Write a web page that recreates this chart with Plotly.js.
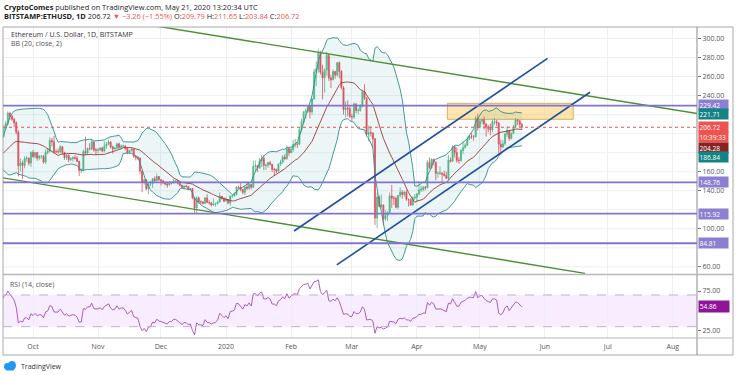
<!DOCTYPE html>
<html><head><meta charset="utf-8">
<script src="https://cdn.plot.ly/plotly-3.0.1.min.js"></script>
<style>html,body{margin:0;padding:0;background:#fff}#chart{width:736px;height:375px}</style>
</head><body><div id="chart"></div>
<script>
// ---------- DATA (ETH/USD daily, Bitstamp) ----------
const firstCloseDate = '2019-08-01';   // closes start here (warm-up for BB / RSI)
const closeAug19 = [218.0,217.8,222.0,222.0,233.0,226.5,226.0,219.0,211.0,206.5,216.0,211.0,208.5,186.5,187.0,185.0,183.0,195.0,202.0,196.5,187.2,191.5,194.6,189.2,186.6,188.4,187.0,173.0,168.9,169.1,172.1];
const closeSep19 = [171.8,178.6,178.5,174.6,173.7,168.6,177.5,181.6,180.4,179.0,179.6,181.3,180.6,188.4,188.8,197.0,207.4,210.6,221.6,218.2,215.2,211.5,201.6,166.3,169.3,166.6,173.9,174.1,169.1,180.3];
const closeOct19 = [175.9,180.1,174.3,176.3,176.3,170.1,180.1,181.8,192.8,191.5,181.0,181.0,181.0,186.2,180.2,174.9,177.4,172.8,173.9,174.9,174.1,170.9,161.4,161.7,181.3,179.7,184.3,184.1,191.4,183.1,182.6];
const closeNov19 = [182.9,184.8,181.9,186.9,188.8,191.2,186.1,183.9,184.7,189.3,185.5,186.9,187.0,184.4,180.0,182.1,183.9,176.3,174.9,174.2,160.7,149.3,151.6,142.0,146.8,147.3,152.5,150.6,155.0,151.6];
const closeDec19 = [150.5,148.6,147.0,146.2,148.3,148.2,150.1,150.1,148.0,145.8,143.4,144.8,144.5,141.9,142.4,132.5,121.9,132.4,128.2,128.2,126.8,132.4,127.6,127.3,125.0,125.8,126.3,128.3,134.3,131.9,129.2];
const closeJan20 = [130.8,127.2,134.3,134.6,135.9,143.9,143.4,141.3,138.3,144.0,142.5,146.6,143.6,165.6,166.4,163.9,171.2,174.0,166.6,166.8,169.4,167.9,162.5,162.5,160.8,168.1,170.1,175.5,173.8,184.3,179.9];
const closeFeb20 = [183.4,188.6,189.4,188.9,204.3,212.6,223.0,223.8,228.6,222.8,236.7,265.0,268.0,284.2,264.7,258.7,267.1,282.2,258.4,256.7,265.3,261.6,274.5,265.5,248.3,225.2,227.0,226.4,217.9];
const closeMar20 = [217.5,231.3,224.3,224.4,228.8,244.1,237.3,199.5,201.0,200.6,194.5,111.3,133.4,123.6,125.0,110.6,113.9,117.1,134.6,132.3,132.0,122.6,135.2,138.5,136.1,138.6,131.0,130.6,125.0,132.5,133.2];
const closeApr20 = [136.4,140.9,141.4,143.7,143.3,169.8,164.3,173.1,170.1,158.2,158.3,158.7,157.5,156.0,153.1,172.2,170.9,186.2,180.2,171.9,171.7,182.3,185.3,187.8,194.2,197.2,196.9,196.7,216.3,206.9];
const closeMay20 = [213.1,214.7,210.2,206.9,205.3,204.1,212.4,212.6,211.1,188.8,186.0,189.4,199.4,203.4,194.8,200.2,207.2,214.3,213.6,209.79,206.72];

const firstCandleDate = '2019-09-16';  // candles (open/high/low) start here
const openSep19 = [188.8,197.0,207.4,210.6,221.6,218.2,215.2,211.5,201.6,166.3,169.3,166.6,173.9,174.1,169.1];
const highSep19 = [199.0,209.0,213.5,223.5,223.0,219.5,216.5,213.0,203.5,174.0,171.5,176.0,176.5,175.0,181.5];
const lowSep19  = [187.5,195.5,205.0,209.0,214.5,213.5,207.0,199.0,155.0,160.0,152.0,163.5,170.5,166.5,165.0];
const openOct19 = [180.3,175.9,180.1,174.3,176.3,176.3,170.1,180.1,181.8,192.8,191.5,181.0,181.0,181.0,186.2,180.2,174.9,177.4,172.8,173.9,174.9,174.1,170.9,161.4,161.7,181.3,179.7,184.3,184.1,191.4,183.1];
const highOct19 = [183.0,181.0,180.5,177.5,177.5,177.5,183.5,185.0,196.0,195.5,197.5,183.5,184.5,188.0,187.0,181.0,178.5,178.0,175.0,176.0,177.5,176.5,171.5,163.5,183.0,197.0,185.5,190.0,194.5,191.5,185.0];
const lowOct19  = [174.5,173.5,171.5,172.0,173.5,168.5,168.0,178.5,180.5,186.5,179.0,179.5,179.0,179.5,178.5,172.5,172.5,170.0,171.0,170.5,172.5,170.0,155.5,158.5,160.5,177.0,177.5,182.5,182.5,181.0,177.5];
const openNov19 = [182.6,182.9,184.8,181.9,186.9,188.8,191.2,186.1,183.9,184.7,189.3,185.5,186.9,187.0,184.4,180.0,182.1,183.9,176.3,174.9,174.2,160.7,149.3,151.6,142.0,146.8,147.3,152.5,150.6,155.0];
const highNov19 = [184.5,186.0,186.0,192.0,191.0,193.5,192.0,187.5,186.0,190.5,190.5,188.5,188.5,188.0,185.5,183.0,185.5,184.5,177.5,176.5,175.0,161.5,152.5,152.0,148.5,150.5,153.5,155.0,158.0,155.5];
const lowNov19  = [179.5,182.0,180.5,180.5,184.0,188.0,184.5,179.0,183.0,184.0,183.5,183.5,185.5,182.5,178.5,179.5,181.0,174.5,172.0,172.5,157.5,138.5,146.5,140.5,136.5,145.0,143.0,148.5,150.0,150.5];
const openDec19 = [151.6,150.5,148.6,147.0,146.2,148.3,148.2,150.1,150.1,148.0,145.8,143.4,144.8,144.5,141.9,142.4,132.5,121.9,132.4,128.2,128.2,126.8,132.4,127.6,127.3,125.0,125.8,126.3,128.3,134.3,131.9];
const highDec19 = [152.0,151.0,149.5,149.5,150.0,149.5,152.5,151.5,151.5,148.5,146.5,146.0,146.5,145.0,143.0,143.0,133.0,134.0,134.0,130.0,129.0,133.5,136.5,130.0,128.0,132.0,127.5,129.5,138.0,134.5,133.0];
const lowDec19  = [145.5,147.0,145.5,143.0,145.5,146.5,147.5,148.5,146.5,144.5,142.5,141.5,143.5,140.5,140.5,131.0,117.0,116.5,126.5,126.0,125.5,126.5,127.0,125.5,123.5,124.5,123.5,126.0,128.0,130.5,128.0];
const openJan20 = [129.2,130.8,127.2,134.3,134.6,135.9,143.9,143.4,141.3,138.3,144.0,142.5,146.6,143.6,165.6,166.4,163.9,171.2,174.0,166.6,166.8,169.4,167.9,162.5,162.5,160.8,168.1,170.1,175.5,173.8,184.3];
const highJan20 = [133.0,131.0,135.0,135.5,138.5,144.5,145.5,148.0,142.0,144.5,149.5,147.0,147.0,171.5,171.5,167.0,174.5,177.5,177.5,168.5,170.5,171.5,168.0,164.0,163.0,168.5,172.5,177.5,178.5,187.5,185.5];
const lowJan20  = [128.5,126.0,124.0,132.5,134.0,135.5,141.5,139.5,136.5,135.5,140.5,141.0,141.5,143.0,160.0,159.5,163.0,165.0,161.5,162.0,164.0,166.5,160.0,155.5,158.5,159.5,166.0,168.5,172.0,172.5,176.5];
const openFeb20 = [179.9,183.4,188.6,189.4,188.9,204.3,212.6,223.0,223.8,228.6,222.8,236.7,265.0,268.0,284.2,264.7,258.7,267.1,282.2,258.4,256.7,265.3,261.6,274.5,265.5,248.3,225.2,227.0,226.4];
const highFeb20 = [185.0,193.5,194.5,191.5,207.0,215.5,224.0,226.5,229.5,229.5,237.5,268.0,276.0,288.5,287.0,272.5,268.5,286.0,284.0,262.0,267.5,266.0,275.5,276.0,266.5,250.0,234.0,235.0,229.0];
const lowFeb20  = [179.5,180.5,185.5,185.0,188.0,201.5,210.0,215.5,221.5,216.0,220.0,235.5,250.0,264.0,262.0,236.0,243.0,261.0,255.5,248.0,256.0,257.5,260.0,258.0,246.5,220.0,217.0,218.5,216.5];
const openMar20 = [217.9,217.5,231.3,224.3,224.4,228.8,244.1,237.3,199.5,201.0,200.6,194.5,111.3,133.4,123.6,125.0,110.6,113.9,117.1,134.6,132.3,132.0,122.6,135.2,138.5,136.1,138.6,131.0,130.6,125.0,132.5];
const highMar20 = [221.0,232.5,232.0,227.0,231.0,245.5,252.0,238.5,208.5,207.5,201.5,195.5,138.0,135.0,136.0,125.5,119.5,118.5,138.0,146.0,134.5,134.0,135.5,143.5,140.5,139.5,140.5,131.5,132.0,134.5,136.5];
const lowMar20  = [213.5,215.5,221.5,220.5,223.0,227.5,235.5,198.0,192.0,197.0,185.0,104.0,101.0,122.5,121.5,104.0,108.5,108.5,115.5,122.0,125.0,121.5,120.5,133.0,131.5,133.5,129.5,123.5,124.5,124.0,130.5];
const openApr20 = [133.2,136.4,140.9,141.4,143.7,143.3,169.8,164.3,173.1,170.1,158.2,158.3,158.7,157.5,156.0,153.1,172.2,170.9,186.2,180.2,171.9,171.7,182.3,185.3,187.8,194.2,197.2,196.9,196.7,216.3];
const highApr20 = [137.5,150.0,145.5,145.0,145.0,172.0,175.0,174.0,173.5,170.5,160.5,165.5,159.0,161.0,160.0,177.5,175.0,188.0,187.0,185.5,175.5,184.0,192.0,190.0,197.0,198.5,200.5,198.5,218.5,221.0];
const lowApr20  = [128.5,135.5,138.5,139.5,140.5,142.5,162.5,163.0,166.5,151.0,153.5,156.5,148.5,155.0,152.5,150.5,169.5,170.5,175.0,169.5,168.5,170.5,178.5,184.5,187.0,193.5,194.5,192.5,196.0,203.0];
const openMay20 = [206.9,213.1,214.7,210.2,206.9,205.3,204.1,212.4,212.6,211.1,188.8,186.0,189.4,199.4,203.4,194.8,200.2,207.2,214.3,213.6,209.79];
const highMay20 = [215.5,216.0,218.0,211.0,209.0,210.5,215.0,216.5,214.5,212.0,193.5,193.0,201.0,207.5,204.0,201.5,209.0,216.5,215.5,214.0,211.65];
const lowMay20  = [205.5,210.0,204.5,197.0,201.5,198.5,201.5,209.5,208.0,179.0,177.5,185.0,187.5,196.5,192.5,194.0,199.5,207.0,209.0,207.0,203.84];

// axis ticks (values hidden behind the price labels are not shown)
const monthTicks  = ['2019-10-01','2019-11-01','2019-12-01','2020-01-01','2020-02-01','2020-03-01','2020-04-01','2020-05-01','2020-06-01','2020-07-01','2020-08-01'];
const monthLabels = ['Oct','Nov','Dec','2020','Feb','Mar','Apr','May','Jun','Jul','Aug'];
const priceTicks  = [60,100,140,160,240,260,280,300];
const priceGrid   = [60,80,100,120,140,160,180,200,220,240,260,280,300];
const rsiTicks    = [25,75];

// drawings (anchor points)
const levelPrices = [229.42, 148.76, 115.92, 84.81];
const greenUpperDates = ['2019-10-01','2020-08-31'];       const greenUpperPrices = [334.0, 214.6];
const greenLowerDates = ['2019-09-01','2020-06-20 02:00']; const greenLowerPrices = [159.2, 53.2];
const blueUpperDates  = ['2020-02-02 10:00','2020-06-02 07:00']; const blueUpperPrices = [97.7, 279.2];
const blueLowerDates  = ['2020-02-22 19:00','2020-06-22 12:00']; const blueLowerPrices = [62.0, 243.5];
const zoneDates  = ['2020-04-15 12:00','2020-06-14 12:00'];
const zonePrices = [215.1, 231.9];
const rsiBand = [30, 70];

// right-axis price labels
const axisLabelVals  = [229.42, 221.71, 206.72, 204.28, 186.84, 148.76, 115.92, 84.81];
const axisLabelColor = ['#8b7fd1','#138484','#ef5350','#872323','#138484','#8b7fd1','#8b7fd1','#8b7fd1'];
const axisLabelShift = [1, -0.5, 0, -18, -11, 0, 0, 0];
const countdownText = '10:39:33';
const rsiLast = 54.86;

// ---------- helpers ----------
function dayList(start, n){
  const d0 = Date.parse(start + 'T00:00:00Z');
  return Array.from({length:n}, (_, i) => new Date(d0 + i*864e5).toISOString().slice(0,10));
}
const closeAll = [].concat(closeAug19, closeSep19, closeOct19, closeNov19, closeDec19, closeJan20, closeFeb20, closeMar20, closeApr20, closeMay20);
const closeDates = dayList(firstCloseDate, closeAll.length);
const openAll = [].concat(openSep19, openOct19, openNov19, openDec19, openJan20, openFeb20, openMar20, openApr20, openMay20);
const highAll = [].concat(highSep19, highOct19, highNov19, highDec19, highJan20, highFeb20, highMar20, highApr20, highMay20);
const lowAll  = [].concat(lowSep19, lowOct19, lowNov19, lowDec19, lowJan20, lowFeb20, lowMar20, lowApr20, lowMay20);
const candleOffset = closeDates.indexOf(firstCandleDate);
const candleDates = closeDates.slice(candleOffset);
const candleClose = closeAll.slice(candleOffset);

// Bollinger Bands (20, 2)
const bbX = [], bbMid = [], bbUp = [], bbLo = [];
for (let i = 19; i < closeAll.length; i++) {
  const w = closeAll.slice(i-19, i+1);
  const m = w.reduce((a,b)=>a+b,0)/20;
  const sd = Math.sqrt(w.reduce((a,b)=>a+(b-m)*(b-m),0)/20);
  bbX.push(closeDates[i]); bbMid.push(m); bbUp.push(m+2*sd); bbLo.push(m-2*sd);
}
// RSI (14) Wilder
const rsiX = [], rsiY = [];
let ag = 0, al = 0;
for (let i = 1; i < closeAll.length; i++) {
  const ch = closeAll[i]-closeAll[i-1];
  const g = Math.max(ch,0), l = Math.max(-ch,0);
  if (i <= 14) { ag += g/14; al += l/14; if (i < 14) continue; }
  else { ag = (ag*13+g)/14; al = (al*13+l)/14; }
  rsiX.push(closeDates[i]); rsiY.push(al === 0 ? 100 : 100 - 100/(1+ag/al));
}

// pixel -> paper helpers for frame decoration
const PL = 3, PW = 694, PB = 338, PH = 311;
const px = v => (v - PL)/PW;
const py = v => (PB - v)/PH;

const RED = '#ef5350';
const traces = [
  {x:bbX, y:bbLo, type:'scatter', mode:'lines', line:{color:'#2f8f8a', width:0.9}, xaxis:'x', yaxis:'y', hoverinfo:'skip'},
  {x:bbX, y:bbUp, type:'scatter', mode:'lines', line:{color:'#2f8f8a', width:0.9}, fill:'tonexty', fillcolor:'rgba(25,135,135,0.08)', xaxis:'x', yaxis:'y', hoverinfo:'skip'},
  {x:candleDates, open:openAll, high:highAll, low:lowAll, close:candleClose, type:'candlestick', xaxis:'x', yaxis:'y',
   increasing:{line:{color:'#53b987', width:0.8}, fillcolor:'#53b987'},
   decreasing:{line:{color:'#eb4d5c', width:0.8}, fillcolor:'#eb4d5c'}, whiskerwidth:0, hoverinfo:'skip'},
  {x:bbX, y:bbMid, type:'scatter', mode:'lines', line:{color:'#9a3a3a', width:0.9}, xaxis:'x', yaxis:'y', hoverinfo:'skip'},
  {x:greenUpperDates, y:greenUpperPrices, type:'scatter', mode:'lines', line:{color:'#4a8f33', width:1.4}, xaxis:'x', yaxis:'y'},
  {x:greenLowerDates, y:greenLowerPrices, type:'scatter', mode:'lines', line:{color:'#4a8f33', width:1.4}, xaxis:'x', yaxis:'y'},
  {x:blueUpperDates, y:blueUpperPrices, type:'scatter', mode:'lines', line:{color:'#1f4f9e', width:1.6}, xaxis:'x', yaxis:'y'},
  {x:blueLowerDates, y:blueLowerPrices, type:'scatter', mode:'lines', line:{color:'#1f4f9e', width:1.6}, xaxis:'x', yaxis:'y'},
  {x:rsiX, y:rsiY, type:'scatter', mode:'lines', line:{color:'#a04cc0', width:0.9}, xaxis:'x', yaxis:'y2', hoverinfo:'skip'}
];

const shapes = [
  {type:'rect', xref:'x', yref:'y', x0:zoneDates[0], x1:zoneDates[1], y0:zonePrices[0], y1:zonePrices[1],
   fillcolor:'rgba(250,205,110,0.55)', line:{color:'#e0b050', width:1}, layer:'between'},
  {type:'line', xref:'paper', yref:'y', x0:0, x1:1, y0:candleClose[candleClose.length-1], y1:candleClose[candleClose.length-1],
   line:{color:RED, width:1, dash:'dot'}, layer:'above'},
  {type:'rect', xref:'paper', yref:'y2', x0:0, x1:1, y0:rsiBand[0], y1:rsiBand[1], fillcolor:'rgba(153,21,255,0.08)', line:{width:0}, layer:'below'},
  {type:'line', xref:'paper', yref:'y2', x0:0, x1:1, y0:rsiBand[0], y1:rsiBand[0], line:{color:'#c2b0d4', width:1, dash:'dash'}},
  {type:'line', xref:'paper', yref:'y2', x0:0, x1:1, y0:rsiBand[1], y1:rsiBand[1], line:{color:'#c2b0d4', width:1, dash:'dash'}},
  {type:'rect', xref:'paper', yref:'paper', x0:0, x1:px(733), y0:py(355), y1:1, line:{color:'#a8a8a8', width:1}, fillcolor:'rgba(0,0,0,0)'},
  {type:'line', xref:'paper', yref:'paper', x0:1, x1:1, y0:py(355), y1:1, line:{color:'#8a8a8a', width:1}},
  {type:'line', xref:'paper', yref:'paper', x0:0, x1:px(733), y0:py(274.5), y1:py(274.5), line:{color:'#b8b8b8', width:1.6}},
  {type:'line', xref:'paper', yref:'paper', x0:0, x1:px(733), y0:0, y1:0, line:{color:'#b8b8b8', width:1.2}},
  {type:'circle', xref:'paper', yref:'paper', x0:px(4), x1:px(11), y0:py(370), y1:py(363), fillcolor:'#2196f3', line:{width:0}},
  {type:'circle', xref:'paper', yref:'paper', x0:px(8), x1:px(16), y0:py(370), y1:py(361), fillcolor:'#2196f3', line:{width:0}},
  {type:'rect', xref:'paper', yref:'paper', x0:px(6), x1:px(14), y0:py(370.5), y1:py(366), fillcolor:'#2196f3', line:{width:0}}
];
priceGrid.forEach(v => shapes.push({type:'line', xref:'paper', yref:'y', x0:0, x1:1, y0:v, y1:v, line:{color:'#edeff4', width:1}, layer:'below'}));
levelPrices.forEach(v => shapes.push({type:'line', xref:'paper', yref:'y', x0:0, x1:1, y0:v, y1:v, line:{color:'#8073d3', width:1.8}, layer:'above'}));

const boxFont = {size:6.6, color:'#fff'};
const annotations = [
  {xref:'paper', yref:'paper', x:px(2), y:py(6.5), xanchor:'left', yanchor:'middle', showarrow:false,
   text:'<b>CryptoComes</b> published on TradingView.com, May 21, 2020 13:20:34 UTC', font:{size:7.4, color:'#222'}},
  {xref:'paper', yref:'paper', x:px(2), y:py(16), xanchor:'left', yanchor:'middle', showarrow:false,
   text:'<b>BITSTAMP:ETHUSD, 1D</b> 206.72 <span style="color:'+RED+'">▼ −3.26 (−1.55%)</span> O:<span style="color:'+RED+'">209.79</span> H:<span style="color:'+RED+'">211.65</span> L:<span style="color:'+RED+'">203.84</span> C:<span style="color:'+RED+'">206.72</span>',
   font:{size:7.4, color:'#222'}},
  {xref:'paper', yref:'paper', x:px(9), y:py(34), xanchor:'left', yanchor:'middle', showarrow:false,
   text:'Ethereum / U.S. Dollar, 1D, BITSTAMP', font:{size:7, color:'#333'}},
  {xref:'paper', yref:'paper', x:px(9), y:py(43.5), xanchor:'left', yanchor:'middle', showarrow:false,
   text:'BB (20, close, 2)', font:{size:7, color:'#555'}},
  {xref:'paper', yref:'paper', x:px(8), y:py(284), xanchor:'left', yanchor:'middle', showarrow:false,
   text:'RSI (14, close)', font:{size:7, color:'#555'}},
  {xref:'paper', yref:'paper', x:px(19), y:py(366), xanchor:'left', yanchor:'middle', showarrow:false,
   text:'TradingView', font:{size:7, color:'#333'}},
  {xref:'paper', yref:'y', x:1, xshift:1, y:axisLabelVals[2], yshift:-10, xanchor:'left', yanchor:'middle', showarrow:false,
   text:countdownText, bgcolor:RED, font:boxFont, borderpad:0.6, width:28, align:'left'},
  {xref:'paper', yref:'y2', x:1, xshift:1, y:rsiLast, xanchor:'left', yanchor:'middle', showarrow:false,
   text:rsiLast.toFixed(2), bgcolor:'#8e1599', font:boxFont, borderpad:0.8, width:28, align:'left'}
];
axisLabelVals.forEach((v,i) => annotations.push({xref:'paper', yref:'y', x:1, xshift:1, y:v, yshift:axisLabelShift[i],
  xanchor:'left', yanchor:'middle', showarrow:false, text:v.toFixed(2), bgcolor:axisLabelColor[i],
  font:boxFont, borderpad:0.5, width:28, align:'left'}));

const layout = {
  width:736, height:375, margin:{l:PL, r:736-PL-PW, t:27, b:375-PB},
  paper_bgcolor:'#fff', plot_bgcolor:'#fff', showlegend:false, hovermode:false,
  font:{family:'"Open Sans", sans-serif', size:7, color:'#4c525e'},
  xaxis:{type:'date', range:['2019-09-16 16:40','2020-08-12 12:00'], anchor:'y2', domain:[0,1],
    tickvals:monthTicks, ticktext:monthLabels, ticks:'', showgrid:true, gridcolor:'#edeff4', gridwidth:1,
    zeroline:false, showline:false, rangeslider:{visible:false}, tickfont:{size:7, color:'#555'}, ticklabelstandoff:3},
  yaxis:{domain:[py(274), 1], range:[52.5, 312.1], side:'right', anchor:'x',
    tickvals:priceTicks, ticktext:priceTicks.map(v=>v.toFixed(2)), ticks:'outside', ticklen:3, tickcolor:'#777',
    showgrid:false, zeroline:false, showline:false, tickfont:{size:7, color:'#555'}},
  yaxis2:{domain:[0, py(275)], range:[15.7, 95.2], side:'right', anchor:'x',
    tickvals:rsiTicks, ticktext:rsiTicks.map(v=>v.toFixed(2)), ticks:'outside', ticklen:3, tickcolor:'#777',
    showgrid:false, zeroline:false, showline:false, tickfont:{size:7, color:'#555'}},
  shapes:shapes, annotations:annotations
};
Plotly.newPlot('chart', traces, layout, {staticPlot:true, displayModeBar:false});
</script>
</body></html>
